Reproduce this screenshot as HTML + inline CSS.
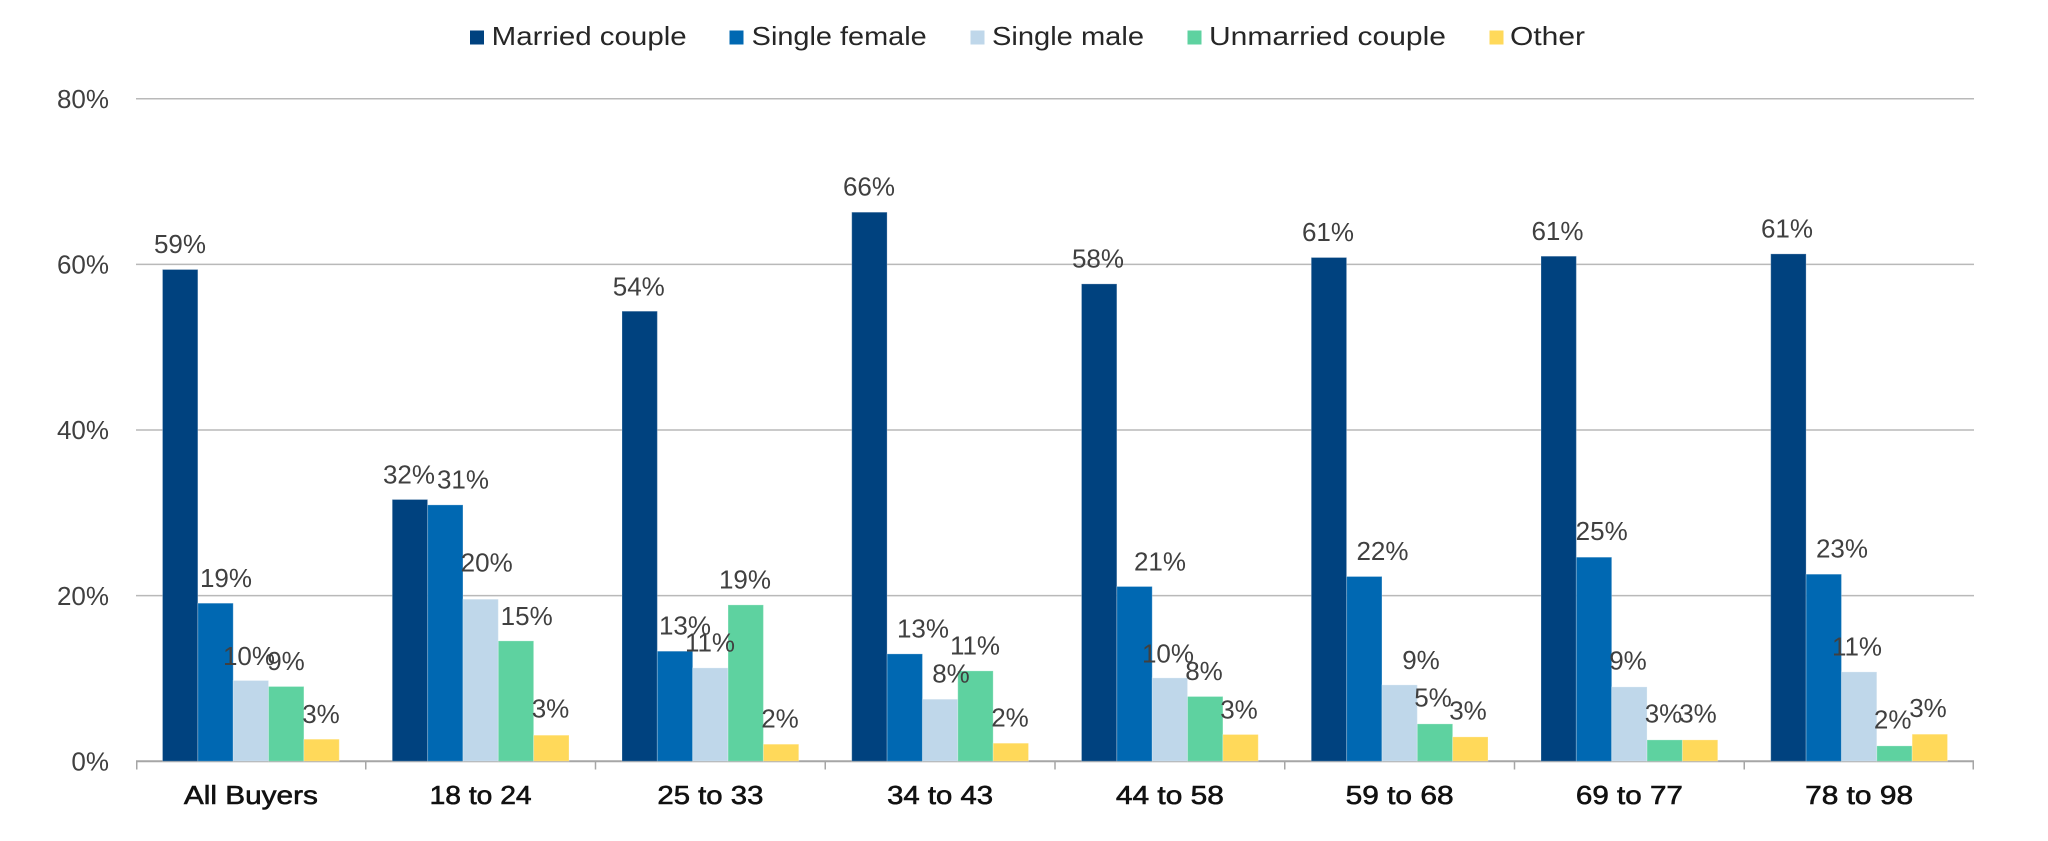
<!DOCTYPE html>
<html>
<head>
<meta charset="utf-8">
<style>
  html,body{margin:0;padding:0;background:#ffffff;}
  svg{display:block;}
  text{font-family:"Liberation Sans",Arial,sans-serif;}
</style>
</head>
<body>
<svg width="2048" height="841" viewBox="0 0 2048 841" xmlns="http://www.w3.org/2000/svg">
  <rect width="2048" height="841" fill="#ffffff"/>

  <!-- Legend -->
  <g font-size="26" fill="#262626">
    <rect x="470" y="30.5" width="14" height="14" fill="#00427F"/>
    <text x="491.7" y="45" textLength="195" lengthAdjust="spacingAndGlyphs">Married couple</text>
    <rect x="729.5" y="30.5" width="14" height="14" fill="#0068B2"/>
    <text x="751.7" y="45" textLength="175" lengthAdjust="spacingAndGlyphs">Single female</text>
    <rect x="970.5" y="30.5" width="14" height="14" fill="#BFD7EA"/>
    <text x="992" y="45" textLength="152" lengthAdjust="spacingAndGlyphs">Single male</text>
    <rect x="1187.5" y="30.5" width="14" height="14" fill="#5ED2A0"/>
    <text x="1209" y="45" textLength="237" lengthAdjust="spacingAndGlyphs">Unmarried couple</text>
    <rect x="1489.5" y="30.5" width="14" height="14" fill="#FFD95A"/>
    <text x="1510" y="45" textLength="75" lengthAdjust="spacingAndGlyphs">Other</text>
  </g>

  <!-- Gridlines -->
  <g stroke="#b9b9b9" stroke-width="1.5">
    <line x1="136" y1="98.8" x2="1974" y2="98.8"/>
    <line x1="136" y1="264.4" x2="1974" y2="264.4"/>
    <line x1="136" y1="430" x2="1974" y2="430"/>
    <line x1="136" y1="595.6" x2="1974" y2="595.6"/>
  </g>

  <!-- Y axis labels -->
  <g font-size="26" fill="#404040" text-anchor="end">
    <text x="109" y="108">80%</text>
    <text x="109" y="273.6">60%</text>
    <text x="109" y="439.2">40%</text>
    <text x="109" y="604.8">20%</text>
    <text x="109" y="770.4">0%</text>
  </g>

  <!-- Bars -->
  <g id="bars"></g>

  <!-- Axis line & ticks -->
  <g stroke="#a6a6a6" stroke-width="2">
    <line x1="136" y1="761.2" x2="1974" y2="761.2"/>
  </g>
  <g stroke="#a6a6a6" stroke-width="1.5">
    <line x1="136.75" y1="761" x2="136.75" y2="769.5"/>
    <line x1="365.75" y1="761" x2="365.75" y2="769.5"/>
    <line x1="595.5" y1="761" x2="595.5" y2="769.5"/>
    <line x1="825.25" y1="761" x2="825.25" y2="769.5"/>
    <line x1="1055" y1="761" x2="1055" y2="769.5"/>
    <line x1="1284.75" y1="761" x2="1284.75" y2="769.5"/>
    <line x1="1514.5" y1="761" x2="1514.5" y2="769.5"/>
    <line x1="1744.25" y1="761" x2="1744.25" y2="769.5"/>
    <line x1="1973.25" y1="761" x2="1973.25" y2="769.5"/>
  </g>

  <!-- X category labels -->
  <g font-size="26" fill="#111111" stroke="#111111" stroke-width="0.6" text-anchor="middle">
    <text x="250.9" y="804" textLength="134" lengthAdjust="spacingAndGlyphs">All Buyers</text>
    <text x="480.6" y="804" textLength="102" lengthAdjust="spacingAndGlyphs">18 to 24</text>
    <text x="710.4" y="804" textLength="106" lengthAdjust="spacingAndGlyphs">25 to 33</text>
    <text x="940.1" y="804" textLength="106" lengthAdjust="spacingAndGlyphs">34 to 43</text>
    <text x="1169.9" y="804" textLength="108" lengthAdjust="spacingAndGlyphs">44 to 58</text>
    <text x="1399.6" y="804" textLength="108" lengthAdjust="spacingAndGlyphs">59 to 68</text>
    <text x="1629.4" y="804" textLength="107" lengthAdjust="spacingAndGlyphs">69 to 77</text>
    <text x="1859.1" y="804" textLength="108" lengthAdjust="spacingAndGlyphs">78 to 98</text>
  </g>

  <!-- Static bars (inline, generated values) -->
  <g stroke="#ffffff" stroke-opacity="0.25" stroke-width="1">
    <!-- All Buyers: group start 162.5 -->
    <rect x="162.5" y="269.5" width="35.35" height="491.7" fill="#00427F"/>
    <rect x="197.85" y="603.2" width="35.35" height="158.0" fill="#0068B2"/>
    <rect x="233.2" y="680.5" width="35.35" height="80.7" fill="#BFD7EA"/>
    <rect x="268.55" y="686.5" width="35.35" height="74.7" fill="#5ED2A0"/>
    <rect x="303.9" y="739.2" width="35.35" height="22.0" fill="#FFD95A"/>
    <!-- 18 to 24: 392.25 -->
    <rect x="392.25" y="499.5" width="35.35" height="261.7" fill="#00427F"/>
    <rect x="427.6" y="504.9" width="35.35" height="256.3" fill="#0068B2"/>
    <rect x="462.95" y="599.2" width="35.35" height="162.0" fill="#BFD7EA"/>
    <rect x="498.3" y="640.9" width="35.35" height="120.3" fill="#5ED2A0"/>
    <rect x="533.65" y="735.2" width="35.35" height="26.0" fill="#FFD95A"/>
    <!-- 25 to 33: 622 -->
    <rect x="622" y="311.2" width="35.35" height="450.0" fill="#00427F"/>
    <rect x="657.35" y="651.2" width="35.35" height="110.0" fill="#0068B2"/>
    <rect x="692.7" y="667.9" width="35.35" height="93.3" fill="#BFD7EA"/>
    <rect x="728.05" y="604.9" width="35.35" height="156.3" fill="#5ED2A0"/>
    <rect x="763.4" y="744.2" width="35.35" height="17.0" fill="#FFD95A"/>
    <!-- 34 to 43: 851.75 -->
    <rect x="851.75" y="212.2" width="35.35" height="549.0" fill="#00427F"/>
    <rect x="887.1" y="653.9" width="35.35" height="107.3" fill="#0068B2"/>
    <rect x="922.45" y="699.2" width="35.35" height="62.0" fill="#BFD7EA"/>
    <rect x="957.8" y="670.9" width="35.35" height="90.3" fill="#5ED2A0"/>
    <rect x="993.15" y="743.2" width="35.35" height="18.0" fill="#FFD95A"/>
    <!-- 44 to 58: 1081.5 -->
    <rect x="1081.5" y="283.9" width="35.35" height="477.3" fill="#00427F"/>
    <rect x="1116.85" y="586.5" width="35.35" height="174.7" fill="#0068B2"/>
    <rect x="1152.2" y="677.9" width="35.35" height="83.3" fill="#BFD7EA"/>
    <rect x="1187.55" y="696.5" width="35.35" height="64.7" fill="#5ED2A0"/>
    <rect x="1222.9" y="734.5" width="35.35" height="26.7" fill="#FFD95A"/>
    <!-- 59 to 68: 1311.25 -->
    <rect x="1311.25" y="257.5" width="35.35" height="503.7" fill="#00427F"/>
    <rect x="1346.6" y="576.5" width="35.35" height="184.7" fill="#0068B2"/>
    <rect x="1381.95" y="684.9" width="35.35" height="76.3" fill="#BFD7EA"/>
    <rect x="1417.3" y="723.9" width="35.35" height="37.3" fill="#5ED2A0"/>
    <rect x="1452.65" y="736.9" width="35.35" height="24.3" fill="#FFD95A"/>
    <!-- 69 to 77: 1541 -->
    <rect x="1541" y="256.2" width="35.35" height="505.0" fill="#00427F"/>
    <rect x="1576.35" y="557.2" width="35.35" height="204.0" fill="#0068B2"/>
    <rect x="1611.7" y="686.9" width="35.35" height="74.3" fill="#BFD7EA"/>
    <rect x="1647.05" y="739.9" width="35.35" height="21.3" fill="#5ED2A0"/>
    <rect x="1682.4" y="739.9" width="35.35" height="21.3" fill="#FFD95A"/>
    <!-- 78 to 98: 1770.75 -->
    <rect x="1770.75" y="253.9" width="35.35" height="507.3" fill="#00427F"/>
    <rect x="1806.1" y="574.2" width="35.35" height="187.0" fill="#0068B2"/>
    <rect x="1841.45" y="671.9" width="35.35" height="89.3" fill="#BFD7EA"/>
    <rect x="1876.8" y="745.9" width="35.35" height="15.3" fill="#5ED2A0"/>
    <rect x="1912.15" y="734.2" width="35.35" height="27.0" fill="#FFD95A"/>
  </g>

  <!-- Data labels -->
  <g font-size="26" fill="#404040" text-anchor="middle">
    <!-- All Buyers -->
    <text x="180" y="253">59%</text>
    <text x="226" y="587">19%</text>
    <text x="249" y="665">10%</text>
    <text x="286" y="670">9%</text>
    <text x="321" y="723">3%</text>
    <!-- 18 to 24 -->
    <text x="409" y="483.3">32%</text>
    <text x="463" y="488.3">31%</text>
    <text x="486.7" y="571.7">20%</text>
    <text x="526.7" y="625">15%</text>
    <text x="550.5" y="717.7">3%</text>
    <!-- 25 to 33 -->
    <text x="638.8" y="295.7">54%</text>
    <text x="685" y="634.3">13%</text>
    <text x="710" y="651.7">11%</text>
    <text x="745" y="588.5">19%</text>
    <text x="780" y="727.7">2%</text>
    <!-- 34 to 43 -->
    <text x="869" y="195.7">66%</text>
    <text x="923" y="637.3">13%</text>
    <text x="951" y="682.3">8%</text>
    <text x="975" y="654.3">11%</text>
    <text x="1010" y="726.7">2%</text>
    <!-- 44 to 58 -->
    <text x="1098" y="267.5">58%</text>
    <text x="1160" y="570.7">21%</text>
    <text x="1168" y="662.3">10%</text>
    <text x="1204" y="680">8%</text>
    <text x="1239" y="718.3">3%</text>
    <!-- 59 to 68 -->
    <text x="1328" y="241">61%</text>
    <text x="1382.5" y="560">22%</text>
    <text x="1421" y="669">9%</text>
    <text x="1433" y="706.7">5%</text>
    <text x="1468" y="719.3">3%</text>
    <!-- 69 to 77 -->
    <text x="1557.5" y="240">61%</text>
    <text x="1601.7" y="540">25%</text>
    <text x="1628" y="669.5">9%</text>
    <text x="1663.5" y="722.7">3%</text>
    <text x="1698" y="722.7">3%</text>
    <!-- 78 to 98 -->
    <text x="1787" y="237.5">61%</text>
    <text x="1842" y="557.7">23%</text>
    <text x="1857" y="655.5">11%</text>
    <text x="1892.7" y="728.7">2%</text>
    <text x="1928" y="717">3%</text>
  </g>
</svg>
</body>
</html>
